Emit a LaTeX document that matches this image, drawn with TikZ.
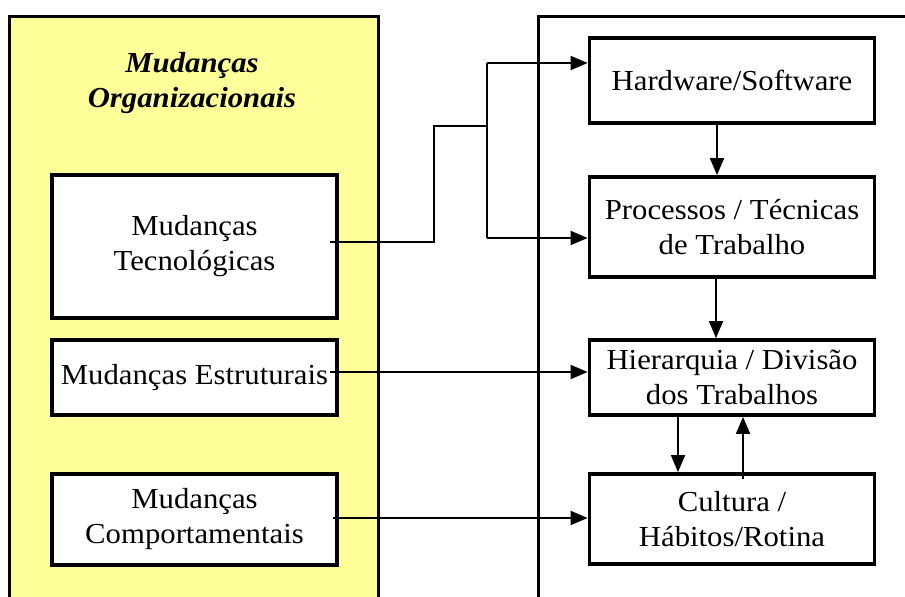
\documentclass[tikz,border=0pt]{standalone}
\usepackage{fontspec}
\setmainfont{Liberation Serif}[FakeStretch=1.06]
\usetikzlibrary{arrows.meta}
\definecolor{paleyellow}{HTML}{FFFF99}
\begin{document}
\begin{tikzpicture}[x=1pt,y=-1pt,
  box/.style={draw,line width=3.8pt,fill=white,align=center,inner sep=0pt,
    minimum width=285pt,font=\fontsize{29}{35}\selectfont},
  conn/.style={line width=1.8pt},
  arr/.style={conn,-{Triangle[length=17pt,width=14pt]}}]
\useasboundingbox (0,0) rectangle (905,597);

% left panel (yellow) and right panel frame
\fill[paleyellow] (9.5,16.5) rectangle (378.5,600);
\draw[line width=3.6pt] (9.5,600) -- (9.5,16.5) -- (378.5,16.5) -- (378.5,600);
\draw[line width=3.6pt] (538.5,600) -- (538.5,16.5) -- (910,16.5);

\node (title) at (192,83) [align=center,font=\fontsize{29}{35}\selectfont\bfseries\itshape]
  {Mudanças\\Organizacionais};

% left boxes
\node[box,minimum height=143pt] (tec) at (194.5,246.5) {Mudanças\\Tecnológicas};
\node[box,minimum height=75pt]  (est) at (194.5,377.5) {Mudanças Estruturais};
\node[box,minimum height=91pt]  (comp) at (194.5,519.5) {Mudanças\\Comportamentais};

% right boxes
\node[box,minimum height=85pt]  (hw)   at (732,80.5)  {Hardware/Software};
\node[box,minimum height=100pt] (proc) at (732,227)   {Processos / Técnicas\\de Trabalho};
\node[box,minimum height=75pt]  (hier) at (732,377.5) {Hierarquia / Divisão\\dos Trabalhos};
\node[box,minimum height=90pt]  (cult) at (732,519)   {Cultura /\\Hábitos/Rotina};

% branch from technological changes
\coordinate (tecout) at (330,242);
\coordinate (j1) at (434,242);
\coordinate (j2) at (434,126);
\coordinate (j3) at (487,126);
\coordinate (btop) at (487,63);
\coordinate (bbot) at (487,238);
\draw[conn] (tecout) -- (j1) -- (j2) -- (j3);
\draw[conn] (btop) -- (bbot);
\draw[arr] (btop) -- (btop -| hw.west);
\draw[arr] (bbot) -- (bbot -| proc.west);

% structural and behavioural changes
\coordinate (estout) at (330,372);
\coordinate (compout) at (333,518);
\draw[arr] (estout) -- (estout -| hier.west);
\draw[arr] (compout) -- (compout -| cult.west);

% vertical chain
\draw[arr] ([xshift=-15pt]hw.south) -- ([xshift=-15pt]proc.north);
\draw[arr] ([xshift=-16pt]proc.south) -- ([xshift=-16pt]hier.north);
\draw[arr] ([xshift=-54pt]hier.south) -- ([xshift=-54pt]cult.north);
\draw[arr] ([xshift=11pt,yshift=-7pt]cult.north) -- ([xshift=11pt]hier.south);
\end{tikzpicture}
\end{document}
